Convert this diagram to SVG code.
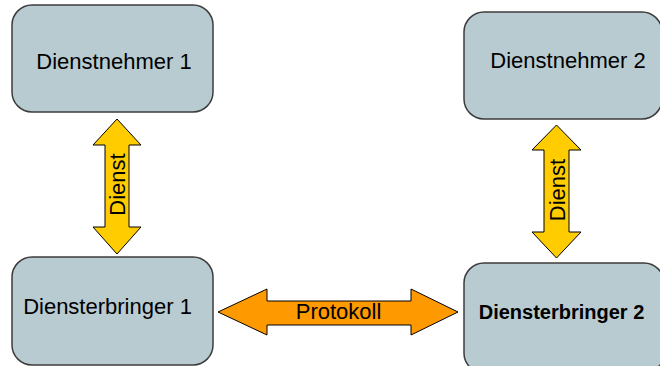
<svg xmlns="http://www.w3.org/2000/svg" width="660" height="366" viewBox="0 0 660 366">
<style>
.box{fill:#b8cbd1;stroke:#3c3c3c;stroke-width:1.5}
.lbl{font-family:"Liberation Sans",Arial,sans-serif;font-size:22px;fill:#000;text-anchor:middle}
.bold{font-weight:bold;font-size:20px}
.ya{fill:#ffcc00;stroke:#000;stroke-width:1}
.oa{fill:#ff9900;stroke:#000;stroke-width:1}
</style>
<rect width="660" height="366" fill="#fff"/>
<g id="connectors">
<g id="dienst1">
<polygon class="ya" points="117,119 141,145 129,145 129,227 141,227 117,254 93,227 105,227 105,145 93,145"/>
<text class="lbl" transform="translate(125,184.5) rotate(-90)">Dienst</text>
</g>
<g id="dienst2">
<polygon class="ya" points="556.5,125 581,150 569,150 569,232 581,232 556.5,258 532,232 544,232 544,150 532,150"/>
<text class="lbl" transform="translate(565,190) rotate(-90)">Dienst</text>
</g>
<g id="protokoll">
<polygon class="oa" points="218,312 267,289 267,301 411,301 411,289 458,312 411,335 411,325 267,325 267,335"/>
<text class="lbl" x="338.5" y="319">Protokoll</text>
</g>
</g>
<g id="dienstnehmer1">
<rect class="box" x="12" y="5" width="201" height="107" rx="20"/>
<text class="lbl" x="114" y="69">Dienstnehmer 1</text>
</g>
<g id="dienstnehmer2">
<rect class="box" x="464" y="12" width="198" height="107" rx="20"/>
<text class="lbl" x="568" y="68">Dienstnehmer 2</text>
</g>
<g id="diensterbringer1">
<rect class="box" x="12" y="257" width="201" height="108" rx="20"/>
<text class="lbl" x="107.5" y="314">Diensterbringer 1</text>
</g>
<g id="diensterbringer2">
<rect class="box" x="464" y="263" width="200" height="110" rx="20"/>
<text class="lbl bold" x="561.5" y="319">Diensterbringer 2</text>
</g>
</svg>
